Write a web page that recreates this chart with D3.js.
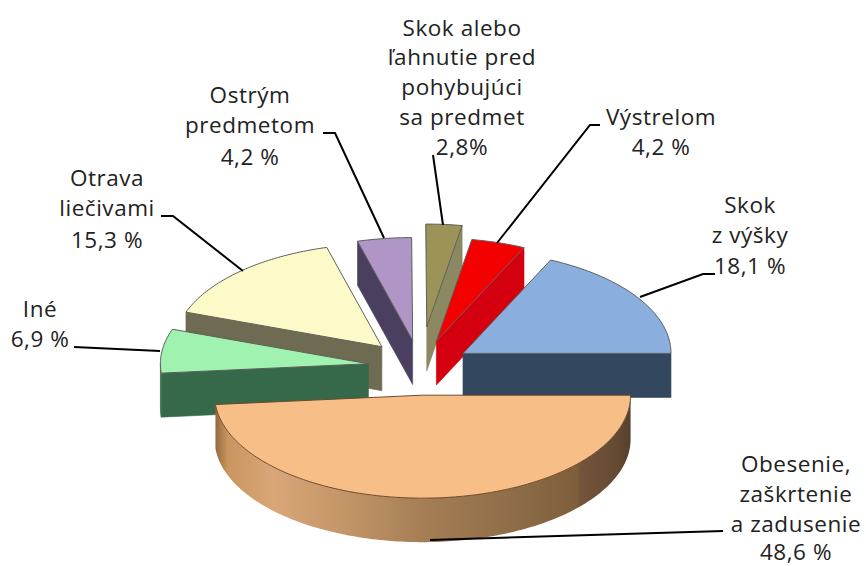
<!DOCTYPE html>
<html><head><meta charset="utf-8">
<style>html,body{margin:0;padding:0;background:#fff}svg{display:block}text{font-family:"Open Sans",sans-serif;font-size:22.5px;font-weight:400;letter-spacing:0.55px;fill:#222;text-anchor:middle}</style>
<script src="https://cdn.jsdelivr.net/npm/d3@7/dist/d3.min.js"></script>
</head><body><svg id="c" width="866" height="566"></svg>
<script>
const categories=["Obesenie, zaškrtenie a zadusenie","Iné","Otrava liečivami","Ostrým predmetom","Skok alebo ľahnutie pred pohybujúci sa predmet","Výstrelom","Skok z výšky"];
const values=[48.6,6.9,15.3,4.2,2.8,4.2,18.1];
const labelLines=[["Obesenie,","zaškrtenie","a zadusenie","48,6 %"],["Iné","6,9 %"],["Otrava","liečivami","15,3 %"],["Ostrým","predmetom","4,2 %"],["Skok alebo","ľahnutie pred","pohybujúci","sa predmet","2,8%"],["Výstrelom","4,2 %"],["Skok","z výšky","18,1 %"]];
const topColors=["#f7bf87","#a0f2b0","#fbfac8","#b096c6","#9c9358","#f50000","#8aaedd"];
const sideColors=["url(#rim)","#35694a","#6f6a52","#4a3f5e","#8c8861","#d40010","#33475f"];
const explode=[57,52,56,54,81,55,51];
const drawOrder=[3,4,5,6,2,1,0];
const labelPos=[[796,472],[40,317],[107,186],[250,103],[462,36],[661,125],[750,213]];
const lineGaps=[[0,30,60,88],[0,30],[0,30,62],[0,30,62],[0,29,59,89,119],[0,30],[0,30,61]];
const leaders=[[[430,540],[723,531]],[[74,347],[160,351]],[[161,216],[173,216],[243,271]],[[323,133],[335,133],[384,238]],[[433,155],[443,225]],[[497,243],[590,125],[600,125]],[[640,297],[703,274],[715,274]]];

const cx=420,cy=367,R=208,tilt=0.495,depth=44;
const svg=d3.select("#c");
const rad=d=>d*Math.PI/180;
const pie=d3.pie().sort(null).startAngle(rad(90)).endAngle(rad(450));
const arcs=pie(values);
const px=d3.scaleLinear().domain([-1,1]).range([-R,R]);
const py=d3.scaleLinear().domain([-1,1]).range([-R*tilt,R*tilt]);
const line=d3.line();

const defs=svg.append("defs");
const g=defs.append("linearGradient").attr("id","rim");
[[0,"#94683f"],[0.03,"#c9965f"],[0.14,"#d9a678"],[0.3,"#c49768"],[0.5,"#a67e55"],[0.7,"#8f6e49"],[0.87,"#7f5e3c"],[0.88,"#74543a"],[0.97,"#644a33"],[1,"#54402c"]]
  .forEach(s=>g.append("stop").attr("offset",s[0]).attr("stop-color",s[1]));

function pt(i,a,lift){
  const mid=(arcs[i].startAngle+arcs[i].endAngle)/2;
  const ax=cx+px(0)+explode[i]*Math.sin(mid), ay=cy-explode[i]*Math.cos(mid)*tilt;
  if(a===null) return [ax,ay+lift];
  return [ax+px(Math.sin(a)),ay-py(Math.cos(a))+lift];
}
function samples(a0,a1){
  const n=Math.max(2,Math.ceil((a1-a0)/rad(1)));
  return d3.range(n+1).map(k=>a0+(a1-a0)*k/n);
}
const pieG=svg.append("g");
drawOrder.forEach(i=>{
  const {startAngle:a0,endAngle:a1}=arcs[i];
  const gs=pieG.append("g");
  const wall=(pts,fill)=>gs.append("path").attr("d",line(pts)+"Z").attr("fill",fill).attr("stroke",fill==="url(#rim)"?"none":fill).attr("stroke-width",0.6);
  if(Math.sin(a0)<-0.01) wall([pt(i,a0,0),pt(i,null,0),pt(i,null,depth),pt(i,a0,depth)],sideColors[i]);
  if(Math.sin(a1)>0.01) wall([pt(i,a1,0),pt(i,null,0),pt(i,null,depth),pt(i,a1,depth)],sideColors[i]);
  const r0=Math.max(a0,rad(90)),r1=Math.min(a1,rad(270));
  if(r1>r0){
    const s=samples(r0,r1);
    wall(s.map(a=>pt(i,a,0)).concat(s.slice().reverse().map(a=>pt(i,a,depth))),sideColors[i]);
  }
  const top=[pt(i,null,0)].concat(samples(a0,a1).map(a=>pt(i,a,0)));
  gs.append("path").attr("d",line(top)+"Z").attr("fill",topColors[i]).attr("stroke",i===0?"#6b4a2a":"#5f5f5a").attr("stroke-width",1).attr("stroke-linejoin","round");
});

svg.append("g").selectAll("path").data(leaders).join("path")
  .attr("d",d=>line(d)).attr("fill","none").attr("stroke","#000").attr("stroke-width",2);

const lab=svg.append("g").selectAll("text").data(labelLines).join("text")
  .attr("transform",(d,i)=>`translate(${labelPos[i][0]},${labelPos[i][1]})`);
lab.each(function(d,i){
  d3.select(this).selectAll("tspan").data(d).join("tspan").attr("x",0).attr("y",(t,j)=>lineGaps[i][j]).text(t=>t);
});
</script></body></html>
